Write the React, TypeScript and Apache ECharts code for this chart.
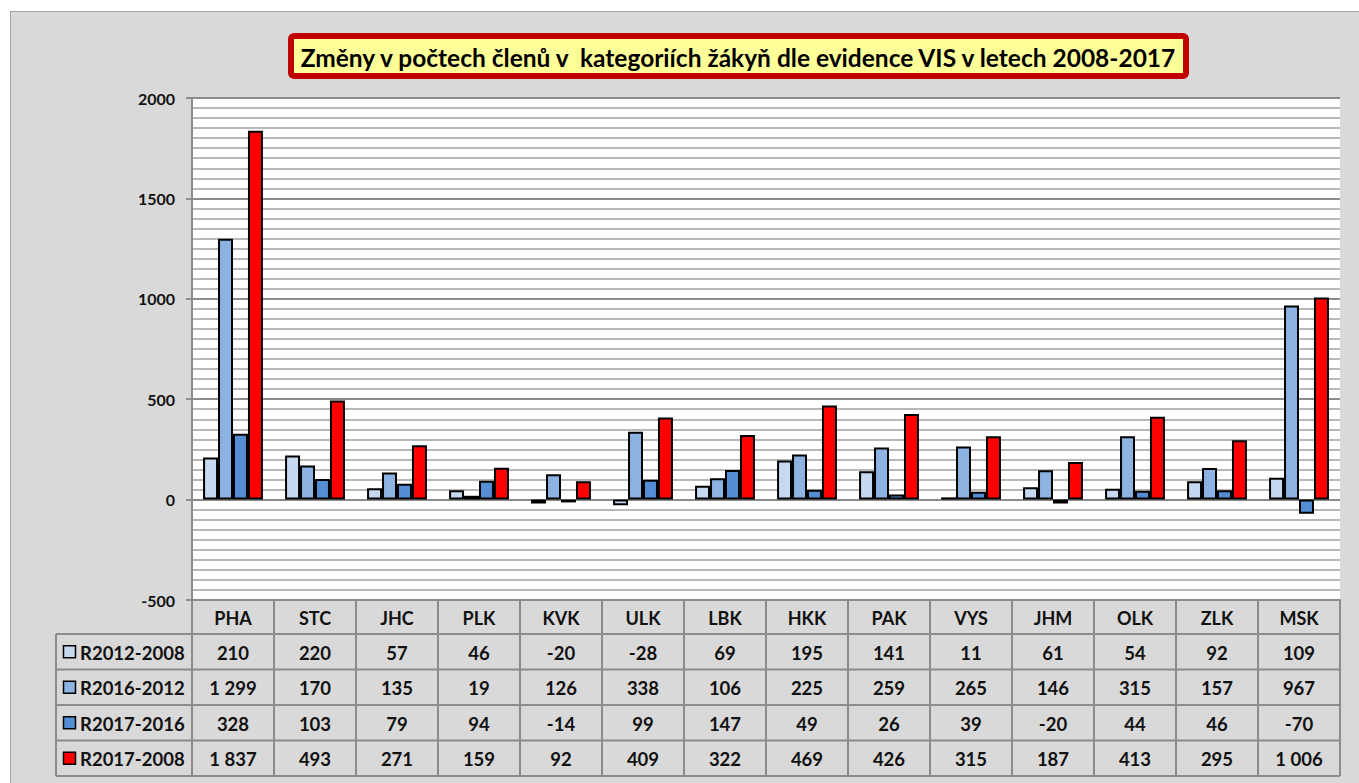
import React, { useEffect, useRef } from "react";
import * as echarts from "echarts";

const categories = ["PHA", "STC", "JHC", "PLK", "KVK", "ULK", "LBK", "HKK", "PAK", "VYS", "JHM", "OLK", "ZLK", "MSK"];
const seriesNames = ["R2012-2008", "R2016-2012", "R2017-2016", "R2017-2008"];
const r2012_2008 = [210, 220, 57, 46, -20, -28, 69, 195, 141, 11, 61, 54, 92, 109];
const r2016_2012 = [1299, 170, 135, 19, 126, 338, 106, 225, 259, 265, 146, 315, 157, 967];
const r2017_2016 = [328, 103, 79, 94, -14, 99, 147, 49, 26, 39, -20, 44, 46, -70];
const r2017_2008 = [1837, 493, 271, 159, 92, 409, 322, 469, 426, 315, 187, 413, 295, 1006];
const seriesColors = ["#c6d9f1", "#8db3e2", "#558ed5", "#ff0000"];
const title = "Změny v počtech členů v  kategoriích žákyň dle evidence VIS v letech 2008-2017";

const FONT = "Lato, 'Open Sans', sans-serif";

function fmt(v: number): string {
  const s = String(Math.abs(v));
  const withSp = s.replace(/\B(?=(\d{3})+(?!\d))/g, " ");
  return (v < 0 ? "-" : "") + withSp;
}

export default function App() {
  const ref = useRef<HTMLDivElement>(null);
  useEffect(() => {
    if (!ref.current) return;
    const chart = echarts.init(ref.current, undefined, { renderer: "svg" });
    const allData = [r2012_2008, r2016_2012, r2017_2016, r2017_2008];

    const gridLeft = 192;
    const gridRight = 1340;
    const gridTop = 98;
    const gridBottomY = 600;
    const colW = (gridRight - gridLeft) / categories.length;
    const rowTops = [634, 669.5, 705, 740.5, 776];
    const legLeft = 56;
    const lineColor = "#8c8c8c";
    const textColor = "#111";

    const graphics: any[] = [];
    // title box
    graphics.push({
      type: "rect",
      shape: { x: 291, y: 36, width: 895, height: 40, r: 3 },
      style: { fill: "#ffff99", stroke: "#c00000", lineWidth: 6 },
    });
    graphics.push({
      type: "text",
      style: {
        text: title,
        x: 738,
        y: 57,
        textAlign: "center",
        textVerticalAlign: "middle",
        font: `bold 24.5px ${FONT}`,
        fill: "#000",
      },
    });
    // table horizontal lines
    rowTops.forEach((y) => {
      graphics.push({
        type: "line",
        shape: { x1: legLeft, y1: y, x2: gridRight, y2: y },
        style: { stroke: lineColor, lineWidth: 2 },
      });
    });
    // vertical lines
    graphics.push({
      type: "line",
      shape: { x1: legLeft, y1: rowTops[0], x2: legLeft, y2: rowTops[4] },
      style: { stroke: lineColor, lineWidth: 2 },
    });
    for (let i = 0; i <= categories.length; i++) {
      const x = gridLeft + i * colW;
      graphics.push({
        type: "line",
        shape: { x1: x, y1: gridBottomY, x2: x, y2: rowTops[4] },
        style: { stroke: lineColor, lineWidth: 2 },
      });
    }
    // legend column
    seriesNames.forEach((name, r) => {
      const cy = (rowTops[r] + rowTops[r + 1]) / 2;
      graphics.push({
        type: "rect",
        shape: { x: 63.5, y: cy - 6, width: 12, height: 12 },
        style: { fill: seriesColors[r], stroke: "#000", lineWidth: 1.5 },
      });
      graphics.push({
        type: "text",
        style: {
          text: name,
          x: 80,
          y: cy + 1,
          textAlign: "left",
          textVerticalAlign: "middle",
          font: `bold 18.5px ${FONT}`,
          fill: textColor,
        },
      });
      allData[r].forEach((v, c) => {
        graphics.push({
          type: "text",
          style: {
            text: fmt(v),
            x: gridLeft + (c + 0.5) * colW,
            y: cy + 1,
            textAlign: "center",
            textVerticalAlign: "middle",
            font: `bold 18.5px ${FONT}`,
            fill: textColor,
          },
        });
      });
    });

    chart.setOption({
      animation: false,
      grid: {
        left: gridLeft,
        top: gridTop,
        width: gridRight - gridLeft,
        height: gridBottomY - gridTop,
        show: true,
        backgroundColor: "#ffffff",
        borderWidth: 0,
      },
      xAxis: {
        type: "category",
        data: categories,
        position: "bottom",
        axisLine: { show: true, onZero: false, lineStyle: { color: lineColor, width: 2 } },
        axisTick: { show: false },
        axisLabel: {
          margin: 9,
          interval: 0,
          fontFamily: FONT,
          fontWeight: "bold",
          fontSize: 18,
          color: textColor,
        },
      },
      yAxis: {
        type: "value",
        min: -500,
        max: 2000,
        interval: 500,
        axisLine: { show: true, lineStyle: { color: lineColor, width: 2 } },
        axisTick: { show: true, length: 6, lineStyle: { color: lineColor, width: 2 } },
        axisLabel: {
          margin: 17,
          fontFamily: FONT,
          fontWeight: "bold",
          fontSize: 16,
          color: textColor,
          formatter: (v: number) => String(v),
        },
        splitLine: { show: true, lineStyle: { color: "#8c8c8c", width: 2 } },
        minorTick: { show: false, splitNumber: 10 },
        minorSplitLine: { show: true, lineStyle: { color: "#b8b8b8", width: 2 } },
      },
      series: allData.map((d, i) => ({
        name: seriesNames[i],
        type: "bar",
        data: d,
        barGap: "0%",
        barCategoryGap: "27%",
        itemStyle: { color: seriesColors[i], borderColor: "#000", borderWidth: 2 },
      })),
      graphic: graphics,
    });
    return () => chart.dispose();
  }, []);

  return (
    <div style={{ position: "absolute", left: 0, top: 0, width: 1359, height: 783, background: "#fff" }}>
      <div
        style={{
          position: "absolute",
          left: 10,
          top: 11,
          width: 1360,
          height: 780,
          background: "#d9d9d9",
          border: "1px solid #a6a6a6",
        }}
      />
      <div ref={ref} style={{ position: "absolute", left: 0, top: 0, width: 1359, height: 783 }} />
    </div>
  );
}
